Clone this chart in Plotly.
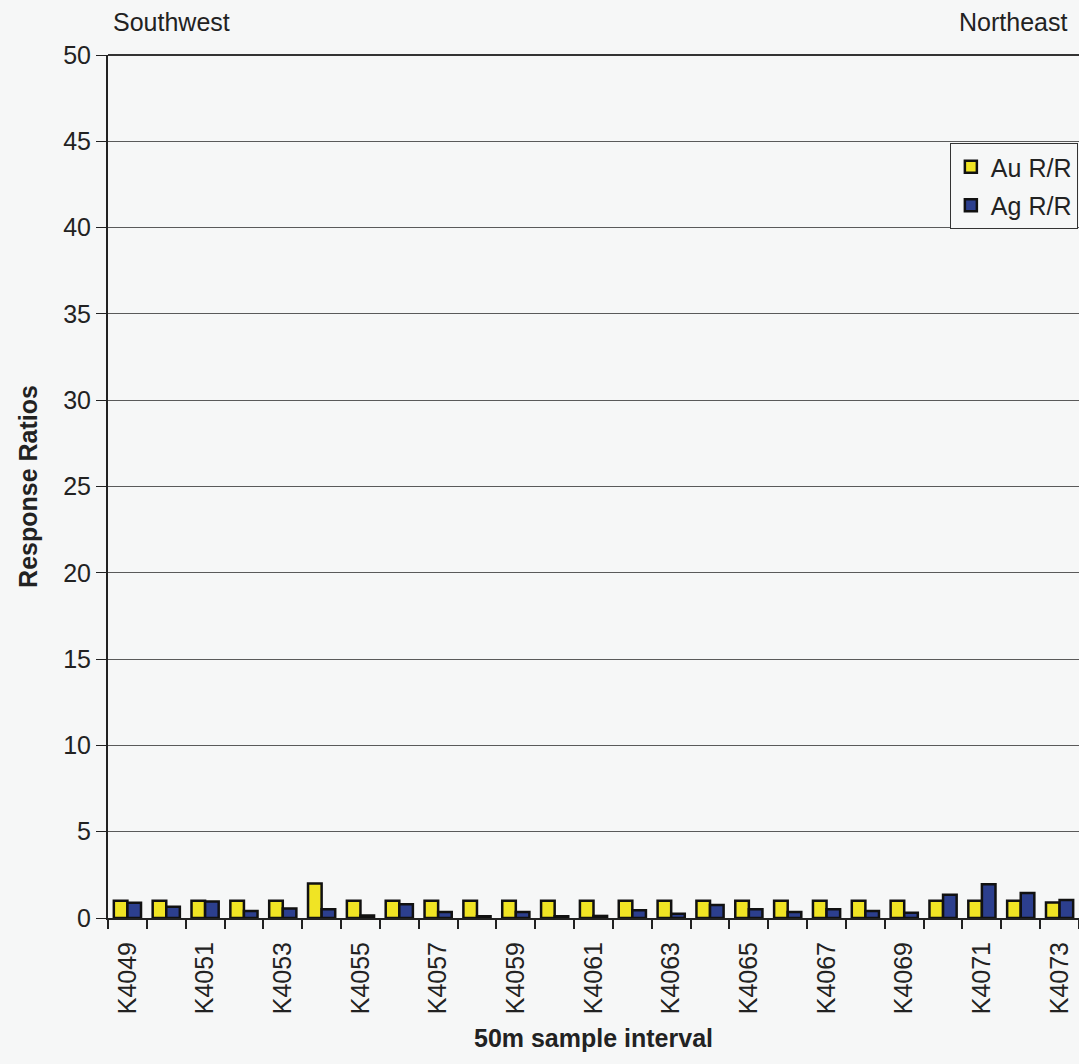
import plotly.graph_objects as go

# Sample stations along the traverse (southwest -> northeast)
categories = [f"K{n}" for n in range(4049, 4074)]

# Response ratios per station
au_rr = [1.0, 1.0, 1.0, 1.0, 1.0, 2.0, 1.0, 1.0, 1.0, 1.0, 1.0, 1.0, 1.0,
         1.0, 1.0, 1.0, 1.0, 1.0, 1.0, 1.0, 1.0, 1.0, 1.0, 1.0, 0.9]
ag_rr = [0.88, 0.65, 0.95, 0.4, 0.55, 0.5, 0.15, 0.8, 0.35, 0.1, 0.35, 0.1,
         0.12, 0.45, 0.25, 0.75, 0.5, 0.35, 0.5, 0.4, 0.3, 1.35, 1.95, 1.45, 1.05]

# Only every other station is labelled on the axis
label_idx = list(range(0, len(categories), 2))
label_text = [categories[i] for i in label_idx]

yticks = list(range(0, 55, 5))

xpos = list(range(len(categories)))

FONT = "Liberation Sans, Arial, sans-serif"
BG = "#f6f7f7"
INK = "#222222"
FS = 25

fig = go.Figure()
fig.add_trace(go.Bar(
    x=xpos, y=au_rr, name="Au R/R", legendgroup="au",
    marker=dict(color="#f0e424", line=dict(color="#111111", width=2.5)),
))
fig.add_trace(go.Bar(
    x=xpos, y=ag_rr, name="Ag R/R", legendgroup="ag",
    marker=dict(color="#2c3f8e", line=dict(color="#111111", width=2.5)),
))

fig.update_layout(
    width=1079, height=1064,
    margin=dict(l=108, r=0, t=55, b=146),
    paper_bgcolor=BG, plot_bgcolor=BG,
    barmode="group", bargap=0.3, bargroupgap=0.0,
    font=dict(family=FONT, size=FS, color=INK),
    showlegend=True,
    legend=dict(
        x=0.867, y=0.898, xanchor="left", yanchor="top",
        bgcolor=BG, bordercolor="#333333", borderwidth=1,
        font=dict(size=FS, family=FONT, color=INK),
        itemwidth=30, tracegroupgap=3,
    ),
    xaxis=dict(
        range=[-0.5, len(categories) - 0.5],
        tickmode="array", tickvals=label_idx, ticktext=label_text,
        tickangle=-90, ticks="outside", ticklen=12, tickcolor="rgba(0,0,0,0)",
        showgrid=False, zeroline=False,
        showline=True, linecolor=INK, linewidth=2,
        tickfont=dict(size=FS, family=FONT, color=INK),
        minor=dict(tick0=-0.5, dtick=1, ticks="outside", ticklen=9,
                   tickcolor=INK, tickwidth=2, showgrid=False),
        title=dict(text="<b>50m sample interval</b>",
                   font=dict(size=FS, family=FONT, color=INK),
                   standoff=16),
    ),
    yaxis=dict(
        range=[0, 50], tickmode="array", tickvals=yticks,
        ticks="outside", ticklen=10, tickcolor=INK, tickwidth=1,
        showgrid=True, gridcolor="#5a5a5a", gridwidth=1,
        zeroline=False, showline=True, linecolor=INK, linewidth=2,
        tickfont=dict(size=FS, family=FONT, color=INK),
        title=dict(text="<b>Response Ratios</b>",
                   font=dict(size=FS, family=FONT, color=INK),
                   standoff=18),
    ),
)

# Direction labels above the plot
fig.add_annotation(text="Southwest", xref="paper", yref="paper",
                   x=0.003, y=1.02, xanchor="left", yanchor="bottom",
                   showarrow=False, font=dict(size=FS, family=FONT, color=INK))
fig.add_annotation(text="Northeast", xref="paper", yref="paper",
                   x=0.99, y=1.02, xanchor="right", yanchor="bottom",
                   showarrow=False, font=dict(size=FS, family=FONT, color=INK))

# Top border of the plotting area
fig.add_shape(type="line", xref="paper", yref="paper", x0=0, x1=1, y0=1, y1=1,
              line=dict(color="#333333", width=2))

fig.write_html("out.html")
